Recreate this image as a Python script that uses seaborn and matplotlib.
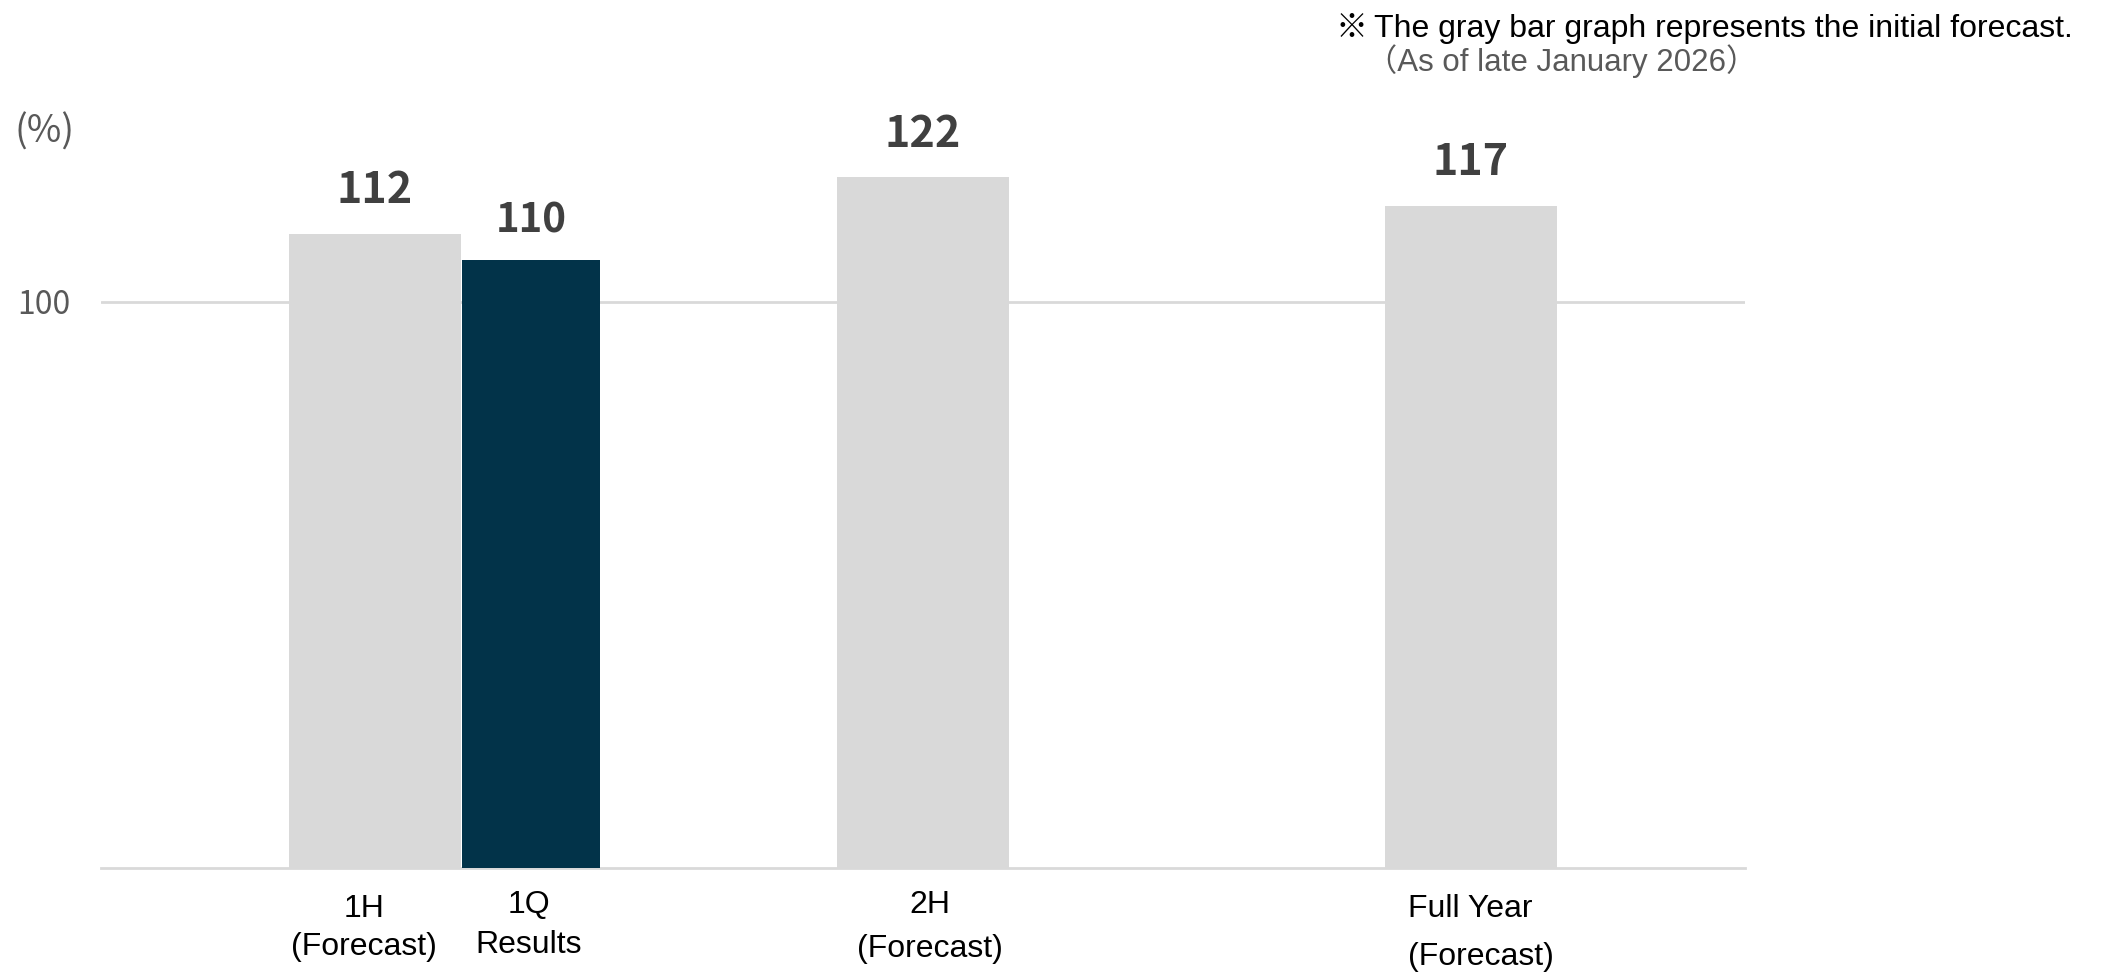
import matplotlib
matplotlib.use("Agg")
import seaborn as sns
from matplotlib import pyplot as plt

# data
periods = ["1H\n(Forecast)", "2H\n(Forecast)", "Full Year\n(Forecast)"]
forecast = [112, 122, 117]
results_name = "1Q\nResults"
results_label = [110]
results_bar = [107.4]  # height the dark bar is drawn at in the original

GRAY = "#d9d9d9"
NAVY = "#023349"
TXT = "#404040"

sns.set_theme(style="white")
plt.rcParams["font.family"] = ["Liberation Sans", "Noto Sans CJK JP", "DejaVu Sans"]
cjk = ["Noto Sans CJK JP", "DejaVu Sans"]

fig = plt.figure(figsize=(21.01, 9.76), dpi=100)
ax = fig.add_axes([101 / 2101, 108 / 976, 1644 / 2101, 736 / 976])

sns.barplot(x=periods, y=forecast, color=GRAY, saturation=1, width=0.314,
            linewidth=0, edgecolor="none", ax=ax)
ax.bar(0.285, results_bar, width=0.252, color=NAVY, linewidth=0, zorder=3)

ax.set_xlim(-0.5, 2.5)
ax.set_ylim(0, 130)
ax.set_axisbelow(True)

ax.set_yticks([100])
ax.set_yticklabels(["100"], fontsize=23, color="#595959", family=cjk)
ax.yaxis.grid(True, color=GRAY, lw=2)
ax.tick_params(axis="y", length=0, pad=22)
ax.set_xticks([])
ax.set_xlabel("")
ax.set_ylabel("")

for s in ["top", "right", "left"]:
    ax.spines[s].set_visible(False)
ax.spines["bottom"].set_color(GRAY)
ax.spines["bottom"].set_linewidth(2)

# value labels
for i, v in enumerate(forecast):
    ax.annotate(str(v), (i, v), xytext=(0, 22), textcoords="offset points",
                ha="center", va="baseline", fontsize=31, fontweight="bold",
                color=TXT, family=cjk)
ax.annotate(str(results_label[0]), (0.285, results_bar[0]), xytext=(0, 20),
            textcoords="offset points", ha="center", va="baseline",
            fontsize=29, fontweight="bold", color=TXT, family=cjk)

# category labels under the axis
xtrans = ax.get_xaxis_transform()
ax.text(0 - 0.02, -0.035, periods[0], transform=xtrans, ha="center", va="top",
        fontsize=23, color="black", linespacing=1.38)
ax.text(1 + 0.013, -0.03, periods[1], transform=xtrans, ha="center", va="top",
        fontsize=23, color="black", linespacing=1.62)
ax.text(2 - 0.115, -0.035, periods[2], transform=xtrans, ha="left", va="top",
        fontsize=23, color="black", linespacing=1.8, multialignment="left")
ax.text(0.28, -0.03, results_name, transform=xtrans, ha="center", va="top",
        fontsize=23, color="black", linespacing=1.45)

# unit and note
fig.text(14 / 2101, 1 - 132 / 976, "(%)", fontsize=27, color="#595959",
         va="center", ha="left", family=cjk)
fig.text(1336 / 2101, 1 - 37 / 976, "※", fontsize=23, color="black",
         va="baseline", ha="left", family=cjk)
fig.text(1374 / 2101, 1 - 37 / 976, "The gray bar graph represents the initial forecast.",
         fontsize=23, color="black", va="baseline", ha="left")
fig.text(1366 / 2101, 1 - 71 / 976, "（As of late January 2026）", fontsize=22.5,
         color="#595959", va="baseline", ha="left")

fig.savefig("out.png", dpi=100)
